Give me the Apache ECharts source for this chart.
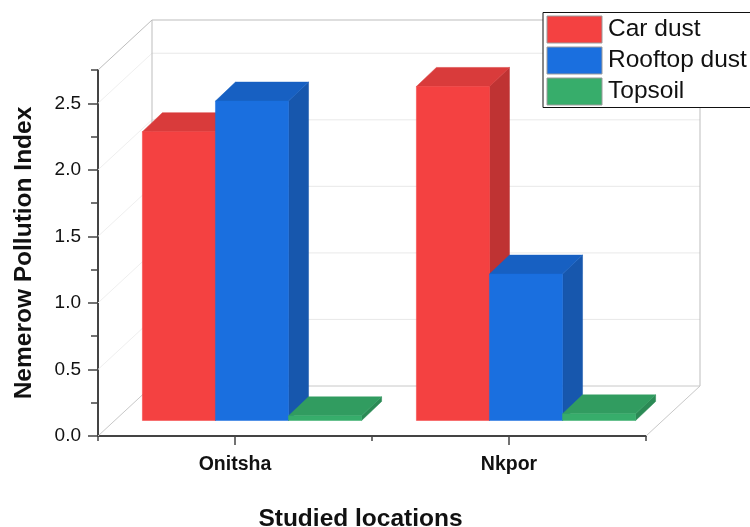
<!DOCTYPE html>
<html>
<head>
<meta charset="utf-8">
<style>html,body{margin:0;padding:0;background:#fff}#c{width:750px;height:527px}</style>
<script src="https://cdn.jsdelivr.net/npm/echarts@6/dist/echarts.min.js"></script>
</head>
<body>
<div id="c"></div>
<script>
// Nemerow Pollution Index by location and sample type
const categories = ['Onitsha', 'Nkpor'];
const carDust = [2.17, 2.51];
const rooftopDust = [2.40, 1.10];
const topsoil = [0.035, 0.05];
const yLabels = [0, 0.5, 1, 1.5, 2, 2.5];
const yMax = 2.75;

// Pseudo-3D box: the room's depth and where the bars sit inside it
const room = { dx: 54, dy: -50 };
const barPlane = { dx: 17, dy: -15.5 };
const barDepth = { dx: 20, dy: -19 };
const groupShare = 0.8;

const palette = [
  { front: '#f44141', top: '#d93b3b', side: '#bf3333' },
  { front: '#1a6fdf', top: '#1760c2', side: '#1757ad' },
  { front: '#37ad6b', top: '#319c60', side: '#2b8a55' }
];

function poly(points, fill) {
  return {
    type: 'polygon',
    shape: { points },
    style: { fill, stroke: fill, lineWidth: 0.5 }
  };
}

function seg(points, stroke, lineWidth) {
  return {
    type: 'polyline',
    shape: { points },
    style: { fill: 'none', stroke, lineWidth: lineWidth || 1 }
  };
}

// Back walls, floor and wall grid lines, placed from the axis scales
function renderRoom(params, api) {
  const band = api.size([1, 0])[0];
  const left = api.coord([0, 0])[0] - band / 2;
  const right = api.coord([1, 0])[0] + band / 2;
  const at = v => api.coord([0, v])[1];
  const dx = room.dx, dy = room.dy;
  const kids = [];
  yLabels.slice(1).forEach(v => {
    const y = at(v);
    kids.push(seg([[left, y], [left + dx, y + dy]], '#efefef'));
    kids.push(seg([[left + dx, y + dy], [right + dx, y + dy]], '#e9e9e9'));
  });
  const top = at(yMax), base = at(0);
  kids.push(seg([[left, top], [left + dx, top + dy], [right + dx, top + dy], [right + dx, base + dy]], '#bdbdbd'));
  kids.push(seg([[left + dx, top + dy], [left + dx, base + dy]], '#bdbdbd'));
  kids.push(seg([[left, base], [left + dx, base + dy], [right + dx, base + dy], [right, base]], '#c8c8c8'));
  return { type: 'group', children: kids };
}

// One 3D bar: front face, top face, right side
function renderBar(index) {
  return function (params, api) {
    const cat = api.value(0);
    const band = api.size([1, 0])[0];
    const w = band * groupShare / 3;
    const c = api.coord([cat, api.value(1)]);
    const b = api.coord([cat, 0]);
    const x0 = b[0] + barPlane.dx - 1.5 * w + index * w;
    const x1 = x0 + w;
    const yT = c[1] + barPlane.dy;
    const yB = b[1] + barPlane.dy;
    const dx = barDepth.dx, dy = barDepth.dy;
    const col = palette[index];
    return {
      type: 'group',
      children: [
        poly([[x1, yT], [x1 + dx, yT + dy], [x1 + dx, yB + dy], [x1, yB]], col.side),
        poly([[x0, yT], [x0 + dx, yT + dy], [x1 + dx, yT + dy], [x1, yT]], col.top),
        poly([[x0, yT], [x1, yT], [x1, yB], [x0, yB]], col.front)
      ]
    };
  };
}

function barSeries(name, values, index) {
  return {
    name,
    type: 'custom',
    renderItem: renderBar(index),
    encode: { x: 0, y: 1 },
    itemStyle: { color: palette[index].front },
    z: 3 + index,
    silent: true,
    data: values.map((v, i) => [i, v])
  };
}

const chart = echarts.init(document.getElementById('c'), null, { renderer: 'canvas' });
const sans = '"Liberation Sans", Arial, sans-serif';

chart.setOption({
  animation: false,
  backgroundColor: '#fff',
  grid: { left: 98, right: 104, top: 70, bottom: 91, outerBoundsMode: 'none' },
  legend: {
    left: 543,
    top: 12.5,
    orient: 'vertical',
    padding: [3, 30, 2, 3.5],
    itemWidth: 55,
    itemHeight: 27,
    itemGap: 3,
    backgroundColor: '#fff',
    borderColor: '#111',
    borderWidth: 1,
    icon: 'rect',
    itemStyle: { borderColor: '#9a9a9a', borderWidth: 1 },
    textStyle: { fontFamily: sans, fontSize: 24.5, color: '#111', padding: [3, 0, 0, 1] },
    data: ['Car dust', 'Rooftop dust', 'Topsoil']
  },
  xAxis: [
    {
      type: 'category',
      data: categories,
      name: 'Studied locations',
      nameLocation: 'middle',
      nameGap: 71,
      nameTextStyle: { fontFamily: sans, fontSize: 24.5, fontWeight: 'bold', color: '#111', padding: [0, 23, 0, 0] },
      axisLine: { lineStyle: { color: '#444', width: 2 } },
      axisTick: { show: true, alignWithLabel: true, length: 9, lineStyle: { color: '#444', width: 1.5 } },
      axisLabel: { fontFamily: sans, fontSize: 19.5, fontWeight: 'bold', color: '#111', margin: 19 }
    },
    {
      type: 'category',
      data: categories,
      position: 'bottom',
      axisLine: { show: false },
      axisTick: { show: true, alignWithLabel: false, length: 5, lineStyle: { color: '#444', width: 1.5 } },
      axisLabel: { show: false }
    }
  ],
  yAxis: [
    {
      type: 'value',
      min: 0,
      max: yMax,
      interval: 0.5,
      name: 'Nemerow Pollution Index',
      nameLocation: 'middle',
      nameGap: 61,
      nameTextStyle: { fontFamily: sans, fontSize: 24.5, fontWeight: 'bold', color: '#111' },
      axisLine: { show: true, lineStyle: { color: '#444', width: 2 } },
      axisTick: { show: true, length: 10, customValues: yLabels, lineStyle: { color: '#444', width: 1.5 } },
      axisLabel: {
        customValues: yLabels,
        formatter: v => v.toFixed(1),
        fontFamily: sans, fontSize: 19, color: '#111', margin: 17, padding: [2, 0, 0, 0]
      },
      splitLine: { show: false }
    },
    {
      type: 'value',
      min: 0,
      max: yMax,
      interval: 0.25,
      position: 'left',
      axisLine: { show: false },
      axisTick: { show: true, length: 7, lineStyle: { color: '#444', width: 1.5 } },
      axisLabel: { show: false },
      splitLine: { show: false }
    }
  ],
  series: [
    {
      type: 'custom',
      renderItem: renderRoom,
      encode: { x: 0, y: 1 },
      z: 1,
      silent: true,
      data: [[0, 0]]
    },
    barSeries('Car dust', carDust, 0),
    barSeries('Rooftop dust', rooftopDust, 1),
    barSeries('Topsoil', topsoil, 2)
  ]
});
</script>
</body>
</html>
